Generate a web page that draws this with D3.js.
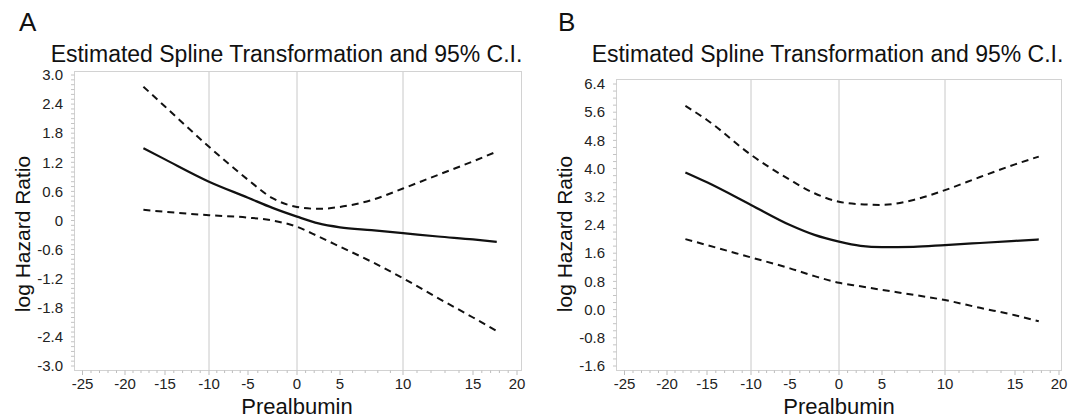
<!DOCTYPE html>
<html><head><meta charset="utf-8">
<script src="https://cdn.jsdelivr.net/npm/d3@7"></script>
<style>
html,body{margin:0;padding:0;background:#fff;}
svg{display:block;font-family:"Liberation Sans",Arial,sans-serif;}
</style></head>
<body>
<svg id="chart" width="1079" height="420"></svg>
<script>
// ---- data ----
const xValues = [-17.7,-15,-10,-5,-2.5,0,2.5,5,7.5,10,12.5,15,17.7];
const estA   = [1.49,1.26,0.80,0.47,0.26,0.08,-0.06,-0.14,-0.20,-0.26,-0.33,-0.39,-0.44];
const upperA = [2.76,2.35,1.52,0.84,0.46,0.28,0.24,0.28,0.42,0.66,0.94,1.22,1.42];
const lowerA = [0.22,0.18,0.11,0.06,0.00,-0.13,-0.33,-0.54,-0.85,-1.19,-1.60,-2.00,-2.28];
const estB   = [3.89,3.61,2.97,2.40,2.12,1.93,1.81,1.77,1.78,1.83,1.89,1.95,1.99];
const upperB = [5.78,5.38,4.39,3.68,3.30,3.06,2.99,2.97,3.11,3.39,3.76,4.12,4.34];
const lowerB = [2.00,1.83,1.48,1.17,0.95,0.76,0.66,0.56,0.42,0.27,0.05,-0.16,-0.33];

const xTicks = [-25,-20,-15,-10,-5,0,5,10,15,20];
const xGrid = [-10,0,10];
const yTicksA = [3.0,2.4,1.8,1.2,0.6,0,-0.6,-1.2,-1.8,-2.4,-3.0];
const yLabelsA = ["3.0","2.4","1.8","1.2","0.6","0","-0.6","-1.2","-1.8","-2.4","-3.0"];
const yTicksB = [6.4,5.6,4.8,4.0,3.2,2.4,1.6,0.8,0.0,-0.8,-1.6];
const yLabelsB = ["6.4","5.6","4.8","4.0","3.2","2.4","1.6","0.8","0.0","-0.8","-1.6"];

const panelTitle = "Estimated Spline Transformation and 95% C.I.";
const xTitle = "Prealbumin";
const yTitle = "log Hazard Ratio";

// ---- layout ----
const svg = d3.select("#chart");
// the source's x axis is unevenly spaced; positions relative to the frame's left edge
const xRangeRel = [8.5,51,91,135,174,223,266,329,399,443];

function panel(opts){
  const g = svg.append("g").attr("transform",`translate(${opts.ox},0)`);
  const x = d3.scaleLinear().domain(xTicks).range(xRangeRel.map(v=>v+opts.left));
  const y = d3.scaleLinear().domain([opts.yTicks[0], opts.yTicks[opts.yTicks.length-1]]).range([opts.yTop, 366]);
  const fl = opts.left, fr = opts.right, ft = opts.frameTop, fb = 370;

  g.append("text").attr("x",opts.letterX).attr("y",31).attr("font-size",26).attr("fill","#111").text(opts.letter);
  g.append("text").attr("x",(fl+fr)/2-11).attr("y",61.5).attr("text-anchor","middle")
    .attr("font-size",23).attr("fill","#111").text(panelTitle);

  g.selectAll("line.grid").data(xGrid).enter().append("line")
    .attr("x1",d=>x(d)).attr("x2",d=>x(d)).attr("y1",ft).attr("y2",fb)
    .attr("stroke","#c8c8c8").attr("stroke-width",1);
  g.append("rect").attr("x",fl+0.5).attr("y",ft+0.5).attr("width",fr-fl).attr("height",fb-ft)
    .attr("fill","none").attr("stroke","#d2d2d2").attr("stroke-width",1);

  const minorX = d3.range(-25,21,1);
  g.selectAll("line.mx").data(minorX).enter().append("line")
    .attr("x1",d=>x(d)).attr("x2",d=>x(d)).attr("y1",fb+0.5).attr("y2",d=> d%5===0? fb+5: fb+3)
    .attr("stroke","#bdbdbd").attr("stroke-width",1);
  g.selectAll("text.xt").data(xTicks).enter().append("text")
    .attr("x",d=>x(d)).attr("y",389).attr("text-anchor","middle")
    .attr("font-size",15).attr("fill","#222").text(d=>String(d));
  g.append("text").attr("x",x(0)).attr("y",414).attr("text-anchor","middle")
    .attr("font-size",22).attr("fill","#111").text(xTitle);

  const yMin = opts.yTicks[opts.yTicks.length-1], yMax = opts.yTicks[0];
  const nMinor = Math.round((yMax-yMin)/opts.minorStep);
  const minorY = d3.range(0,nMinor+1).map(i=>yMin+i*opts.minorStep);
  g.selectAll("line.my").data(minorY).enter().append("line")
    .attr("x1",fl-3).attr("x2",fl+0.5).attr("y1",d=>y(d)).attr("y2",d=>y(d))
    .attr("stroke","#c4c4c4").attr("stroke-width",1);
  g.selectAll("text.yt").data(opts.yTicks).enter().append("text")
    .attr("x",fl-11).attr("y",d=>y(d)).attr("dy","0.35em").attr("text-anchor","end")
    .attr("font-size",15).attr("fill","#222").text((d,i)=>opts.yLabels[i]);
  g.append("text").attr("transform",`translate(${fl-44},${234}) rotate(-90)`)
    .attr("text-anchor","middle").attr("font-size",21).attr("fill","#111").text(yTitle);

  const line = d3.line().x(d=>x(d[0])).y(d=>y(d[1])).curve(d3.curveMonotoneX);
  const series = [
    {v:opts.upper, dash:"7,5"},
    {v:opts.lower, dash:"7,5"},
    {v:opts.est, dash:null}
  ];
  series.forEach(s=>{
    g.append("path").datum(xValues.map((xv,i)=>[xv,s.v[i]]))
      .attr("d",line).attr("fill","none").attr("stroke","#111")
      .attr("stroke-width",s.dash?2:2.2).attr("stroke-dasharray",s.dash);
  });
}

panel({ox:0,left:74,right:521,frameTop:71,yTop:75,letter:"A",letterX:19,
  yTicks:yTicksA,yLabels:yLabelsA,minorStep:0.1,est:estA,upper:upperA,lower:lowerA});
panel({ox:541,left:75,right:520,frameTop:79,yTop:84,letter:"B",letterX:17,
  yTicks:yTicksB,yLabels:yLabelsB,minorStep:0.2,est:estB,upper:upperB,lower:lowerB});
</script>
</body></html>
